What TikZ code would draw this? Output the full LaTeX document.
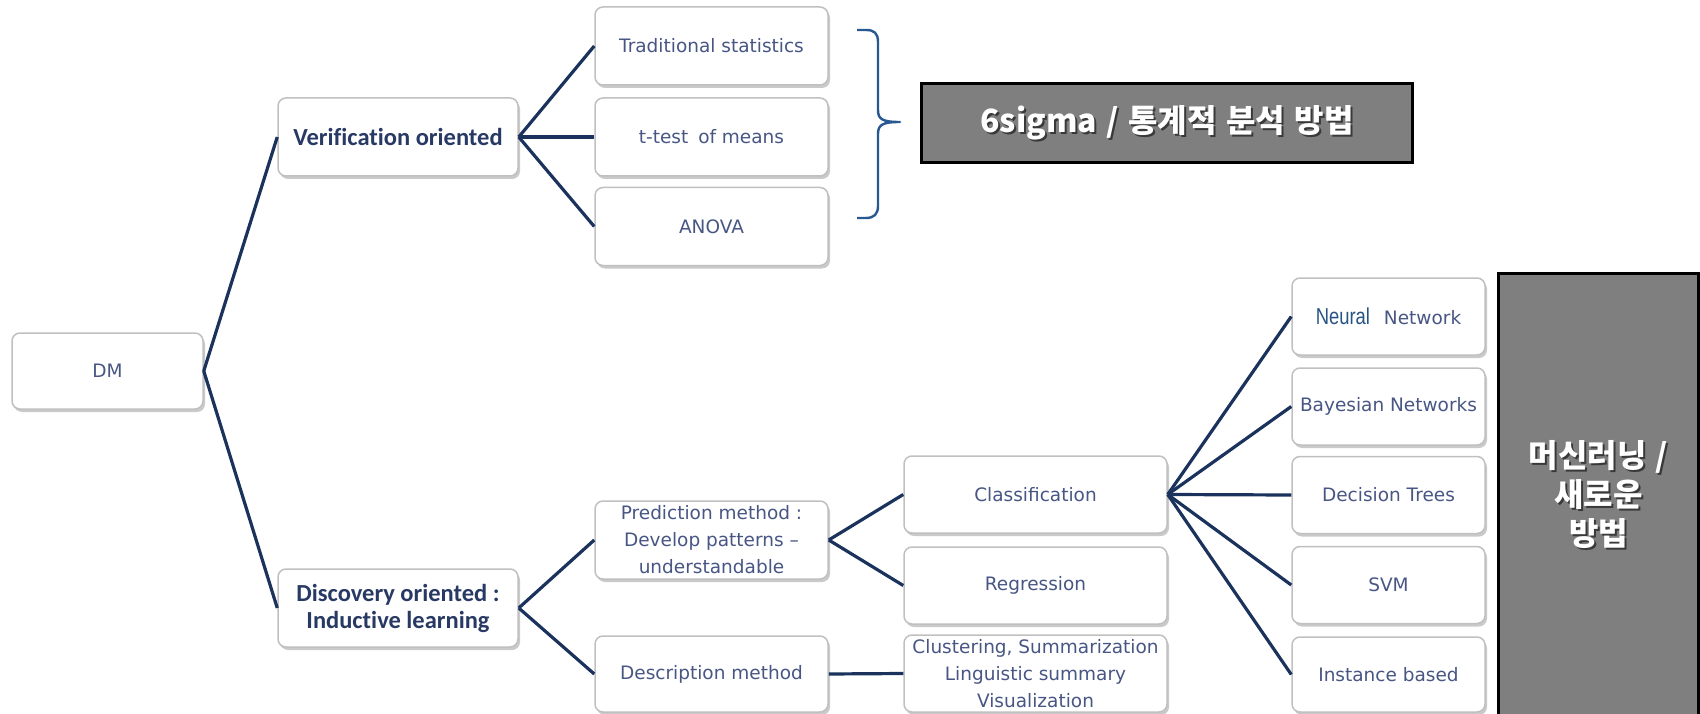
\documentclass[tikz,border=0pt]{standalone}
\usepackage{fontspec}
\setmainfont{DejaVu Sans}
\newfontfamily\boldfam[Ligatures=NoCommon]{Carlito}
\newfontfamily\narrowfam[FakeStretch=0.8]{Liberation Sans}
\newfontfamily\kofont[WordSpace=1.3]{Noto Sans CJK KR}
\usetikzlibrary{shadows}

\definecolor{txtblue}{RGB}{72,86,132}
\definecolor{headblue}{RGB}{40,58,100}
\definecolor{linknavy}{RGB}{26,50,92}
\definecolor{boxedge}{RGB}{192,192,192}
\definecolor{panelgray}{RGB}{127,127,127}
\definecolor{bracecol}{RGB}{40,88,146}
\definecolor{neuralblue}{RGB}{40,84,132}

\tikzset{
  item/.style={draw=boxedge, line width=1.5pt, fill=white, rounded corners=8pt,
    minimum width=233pt, minimum height=78pt, inner sep=0pt, align=center,
    text=txtblue, font=\fontsize{18.5}{27}\selectfont,
    drop shadow={shadow xshift=2pt, shadow yshift=-3pt, opacity=0.35, fill=black!60}},
  head/.style={item, minimum width=240pt, text=headblue,
    font=\boldfam\bfseries\fontsize{24.5}{27}\selectfont},
  wide/.style={item, minimum width=263pt, minimum height=77pt},
  leaf/.style={item, minimum width=193pt, minimum height=77pt},
  link/.style={draw=linknavy, line width=3.2pt},
  panel/.style={fill=panelgray, draw=black, line width=3pt, inner sep=0pt},
  paneltext/.style={text=white, font=\kofont\bfseries\fontsize{32}{39}\selectfont, align=center},
  panelshade/.style={paneltext, text=black, opacity=0.55, xshift=2pt, yshift=-2pt},
  bracestroke/.style={draw=bracecol, line width=2.4pt, line join=round}
}

\begin{document}
\begin{tikzpicture}[x=1pt, y=-1pt]
\useasboundingbox (0,0) rectangle (1700,714);

% root and the two main branches
\node[item, minimum width=191pt, minimum height=76pt] (dm) at (107.5,371) {DM};
\node[head] (ver) at (398,137) {Verification oriented};
\node[head] (disc) at (398,608) {Discovery oriented :\\Inductive learning};

% verification branch
\node[item] (trad) at (711.5,46) {Traditional statistics};
\node[item] (ttest) at (711.5,137) {t-test\hspace{4pt} of means};
\node[item] (anova) at (711.5,226.5) {ANOVA};

% discovery branch
\node[item] (pred) at (711.5,540) {Prediction method :\\Develop patterns --\\understandable};
\node[item, minimum height=76pt] (desc) at (711.5,674) {Description method};
\node[wide] (class) at (1035.5,494.5) {Classification};
\node[wide] (regr) at (1035.5,585.5) {Regression};
\node[wide] (clust) at (1035.5,673.5) {Clustering, Summarization\\Linguistic summary\\Visualization};

% classification methods
\node[leaf] (nn) at (1388.5,316.5) {{\narrowfam\fontsize{23}{27}\selectfont\color{neuralblue}Neural}\hspace{14pt}Network};
\node[leaf] (bayes) at (1388.5,406.5) {Bayesian Networks};
\node[leaf] (dt) at (1388.5,495) {Decision Trees};
\node[leaf] (svm) at (1388.5,585) {SVM};
\node[leaf, minimum height=75pt] (inst) at (1388.5,674.5) {Instance based};

% connectors
\draw[link] (dm.east) -- (ver.west);
\draw[link] (dm.east) -- (disc.west);
\draw[link] (ver.east) -- (trad.west);
\draw[link] (ver.east) -- (ttest.west);
\draw[link] (ver.east) -- (anova.west);
\draw[link] (disc.east) -- (pred.west);
\draw[link] (disc.east) -- (desc.west);
\draw[link] (pred.east) -- (class.west);
\draw[link] (pred.east) -- (regr.west);
\draw[link] (desc.east) -- (clust.west);
\foreach \t in {nn,bayes,dt,svm,inst}
  \draw[link] (class.east) -- (\t.west);

% brace grouping the statistical tests
\draw[bracestroke] (857,30) -- (866,30) .. controls (874,30) and (878,33) .. (878,42)
  -- (878,110) .. controls (878,119) and (882,122) .. (900,122)
  .. controls (882,122) and (878,125) .. (878,134)
  -- (878,206) .. controls (878,214) and (874,218) .. (866,218) -- (857,218);

% labelled panels
\node[panel, minimum width=491pt, minimum height=79pt] (sigma) at (1167,123) {};
\node[panelshade] (sigmashade) at (sigma) {6sigma / 통계적 분석 방법};
\node[paneltext] (sigmatext) at (sigma) {6sigma / 통계적 분석 방법};

\node[panel, minimum width=200pt, minimum height=443pt] (ml) at (1598.5,494.5) {};
\node[panelshade] (mlshade) at (ml) {머신러닝 /\\새로운\\방법};
\node[paneltext] (mltext) at (ml) {머신러닝 /\\새로운\\방법};
\end{tikzpicture}
\end{document}
